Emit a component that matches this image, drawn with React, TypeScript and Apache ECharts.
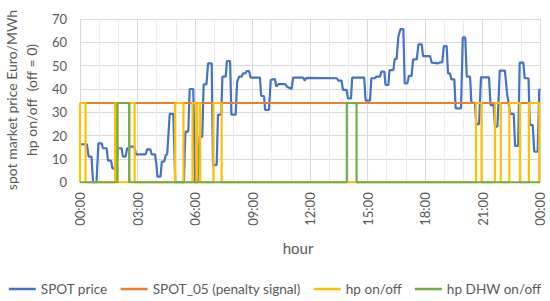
import React, { useEffect, useRef } from "react";
import * as echarts from "echarts";

// SPOT price breakpoints (hour of day, Euro/MWh)
const priceHours = [
  0, 0.36, 0.45, 0.6, 0.68, 0.86, 0.96, 1.13, 1.2, 1.39, 1.46, 1.62, 1.69, 1.82, 1.88, 1.99,
  2.17, 2.24, 2.38, 2.46, 2.57, 2.64, 2.83, 2.92, 3.43, 3.5, 3.67, 3.74, 3.91, 3.98, 4.04, 4.2,
  4.27, 4.4, 4.47, 4.55, 4.68, 4.87, 4.97, 5.42, 5.5, 5.65, 5.72, 5.91, 6.0, 6.14, 6.24, 6.38,
  6.45, 6.6, 6.68, 6.87, 6.94, 7.13, 7.2, 7.37, 7.43, 7.6, 7.67, 7.83, 7.9, 8.12, 8.2, 8.3,
  8.43, 8.5, 8.64, 8.7, 8.82, 8.9, 9.39, 9.45, 9.6, 9.66, 9.86, 9.95, 10.17, 10.24, 10.35, 10.7,
  10.8, 11.04, 11.12, 11.65, 11.72, 11.82, 13.4, 13.48, 13.65, 13.72, 13.91, 13.98, 14.14, 14.2, 14.83, 14.9,
  15.13, 15.2, 15.39, 15.46, 15.65, 15.72, 15.88, 15.94, 16.09, 16.15, 16.35, 16.42, 16.52, 16.61, 16.72, 16.87,
  16.94, 17.08, 17.16, 17.3, 17.38, 17.57, 17.66, 17.83, 17.9, 18.26, 18.35, 18.7, 18.78, 18.9, 18.98, 19.13,
  19.2, 19.3, 19.38, 19.53, 19.6, 19.88, 19.97, 20.1, 20.18, 20.35, 20.42, 20.6, 20.68, 20.82, 20.92, 21.34,
  21.42, 21.58, 21.65, 21.78, 21.9, 22.17, 22.28, 22.45, 22.63, 22.7, 22.86, 22.94, 23.13, 23.2, 23.4, 23.47,
  23.62, 23.7, 23.88, 23.96, 24,
];
const priceValues = [
  16.3, 16.3, 11, 11, 0, 0, 16.7, 16.7, 14.6, 14.6, 9.3, 9.3, 6, 6, 5, 14.6,
  14.6, 11, 11, 14.6, 14.6, 15.3, 15.3, 12, 12, 14.1, 14.1, 12, 12, 8.1, 2.4, 2.4,
  8.9, 8.9, 11.7, 12, 29.3, 29.3, 0, 0, 21.7, 21.7, 40, 40, 0, 0, 19.5, 19.5,
  42, 42, 51, 51, 7.4, 7.4, 29, 29, 45.3, 45.3, 52, 52, 29, 29, 43, 45.3,
  45.3, 46.7, 46.7, 47.7, 47.7, 44.9, 44.9, 37, 37, 31, 31, 43.9, 44.3, 41, 42.1, 42.1,
  41, 40, 44.9, 44.9, 43.6, 44.8, 44.6, 43.6, 43.6, 39.6, 39.6, 36, 36, 44.9, 44.9, 35,
  35, 44.6, 44.6, 45.3, 45.3, 47.4, 47.4, 41.7, 41.7, 48.1, 48.1, 52.9, 52.9, 62.4, 65.7, 65.7,
  42.4, 42.4, 45.6, 45.6, 52.7, 52.7, 59.1, 59.1, 54.1, 54.1, 51.3, 51, 51.4, 51.4, 58.4, 58.4,
  46.7, 46.7, 44.1, 44.1, 31.7, 31.7, 62.1, 62.1, 45.3, 45.3, 34.1, 34.1, 24.9, 24.9, 45, 45,
  33.1, 33.1, 23.9, 23.9, 47.9, 47.9, 38.1, 29.3, 29.3, 15.6, 15.6, 51.3, 51.3, 44.6, 44.6, 24.6,
  24.6, 13.1, 13.1, 39.6, 40,
];

// SPOT_05 penalty signal (constant level)
const penaltyLevel = 34;

// hp on/off: on-intervals (hour of day), on-value
const hpOnLevel = 34;
const hpOnStart = [0, 1.83, 2.57, 4.96, 5.87, 6.12, 6.96, 20.66, 21.65, 22.4, 23.42];
const hpOnEnd = [0.29, 1.95, 2.85, 5.4, 6.07, 6.27, 7.39, 20.95, 21.95, 22.95, 23.96];

// hp DHW on/off: on-intervals
const dhwOnStart = [1.95, 13.92];
const dhwOnEnd = [2.57, 14.43];

const xTicks = [0, 3, 6, 9, 12, 15, 18, 21, 24];

function stepSeries(starts: number[], ends: number[], level: number) {
  const out: number[][] = [[0, 0]];
  starts.forEach((s, i) => {
    out.push([s, 0], [s, level], [ends[i], level], [ends[i], 0]);
  });
  out.push([24, 0]);
  return out;
}

const FONT = "Lato, 'Open Sans', sans-serif";
const TXT = "#595959";

export default function App() {
  const ref = useRef<HTMLDivElement>(null);
  useEffect(() => {
    if (!ref.current) return;
    document.body.style.margin = "0";
    const chart = echarts.init(ref.current, undefined, { renderer: "svg" });
    const priceData = priceHours.map((h, i) => [h, priceValues[i]]);
    const penaltyData = [[0, penaltyLevel], [24, penaltyLevel]];
    chart.setOption({
      animation: false,
      grid: { left: 80, right: 10, top: 19, bottom: 118.7, containLabel: false },
      xAxis: {
        type: "value",
        min: 0,
        max: 24,
        interval: 3,
        axisLine: { show: true, lineStyle: { color: "#D9D9D9" } },
        axisTick: { show: false },
        axisLabel: {
          rotate: 90,
          margin: 10,
          color: TXT,
          fontFamily: FONT,
          fontSize: 13,
          showMaxLabel: true,
          formatter: (v: number) =>
            xTicks.includes(v) ? String(v % 24).padStart(2, "0") + ":00" : "",
        },
        splitLine: { show: true, lineStyle: { color: "#D9D9D9", width: 1 } },
        minorTick: { show: false, splitNumber: 3 },
        minorSplitLine: { show: true, lineStyle: { color: "#EDEDED", width: 1 } },
      },
      yAxis: {
        type: "value",
        min: 0,
        max: 70,
        interval: 10,
        axisLine: { show: false },
        axisTick: { show: false },
        axisLabel: { color: TXT, fontFamily: FONT, fontSize: 13, margin: 13 },
        splitLine: { show: true, lineStyle: { color: "#D9D9D9", width: 1 } },
      },
      legend: {
        top: 277,
        left: "center",
        itemWidth: 27,
        itemHeight: 2.5,
        itemGap: 13,
        icon: "rect",
        textStyle: { color: TXT, fontFamily: FONT, fontSize: 13.6 },
        data: ["SPOT price", "SPOT_05 (penalty signal)", "hp on/off", "hp DHW on/off"],
      },
      graphic: [
        {
          type: "text",
          x: 11,
          y: 100,
          rotation: Math.PI / 2,
          style: {
            text: "spot market price Euro/MWh",
            fill: TXT,
            font: `14px ${FONT}`,
            textAlign: "center",
            textVerticalAlign: "middle",
          },
        },
        {
          type: "text",
          x: 31,
          y: 100,
          rotation: Math.PI / 2,
          style: {
            text: "hp on/off  (off = 0)",
            fill: TXT,
            font: `14px ${FONT}`,
            textAlign: "center",
            textVerticalAlign: "middle",
          },
        },
        {
          type: "text",
          x: 298,
          y: 248,
          style: {
            text: "hour",
            fill: TXT,
            font: `15px ${FONT}`,
            textAlign: "center",
            textVerticalAlign: "middle",
          },
        },
      ],
      series: [
        {
          name: "SPOT price",
          type: "line",
          data: priceData,
          showSymbol: false,
          lineStyle: { color: "#4472C4", width: 2.2 },
          itemStyle: { color: "#4472C4" },
        },
        {
          name: "SPOT_05 (penalty signal)",
          type: "line",
          data: penaltyData,
          showSymbol: false,
          lineStyle: { color: "#ED7D31", width: 2.2 },
          itemStyle: { color: "#ED7D31" },
        },
        {
          name: "hp on/off",
          type: "line",
          data: stepSeries(hpOnStart, hpOnEnd, hpOnLevel),
          showSymbol: false,
          lineStyle: { color: "#FFC000", width: 2.2 },
          itemStyle: { color: "#FFC000" },
        },
        {
          name: "hp DHW on/off",
          type: "line",
          data: stepSeries(dhwOnStart, dhwOnEnd, hpOnLevel),
          showSymbol: false,
          lineStyle: { color: "#70AD47", width: 2.2 },
          itemStyle: { color: "#70AD47" },
        },
      ],
    });
    return () => chart.dispose();
  }, []);
  return <div ref={ref} style={{ width: 550, height: 301 }} />;
}
